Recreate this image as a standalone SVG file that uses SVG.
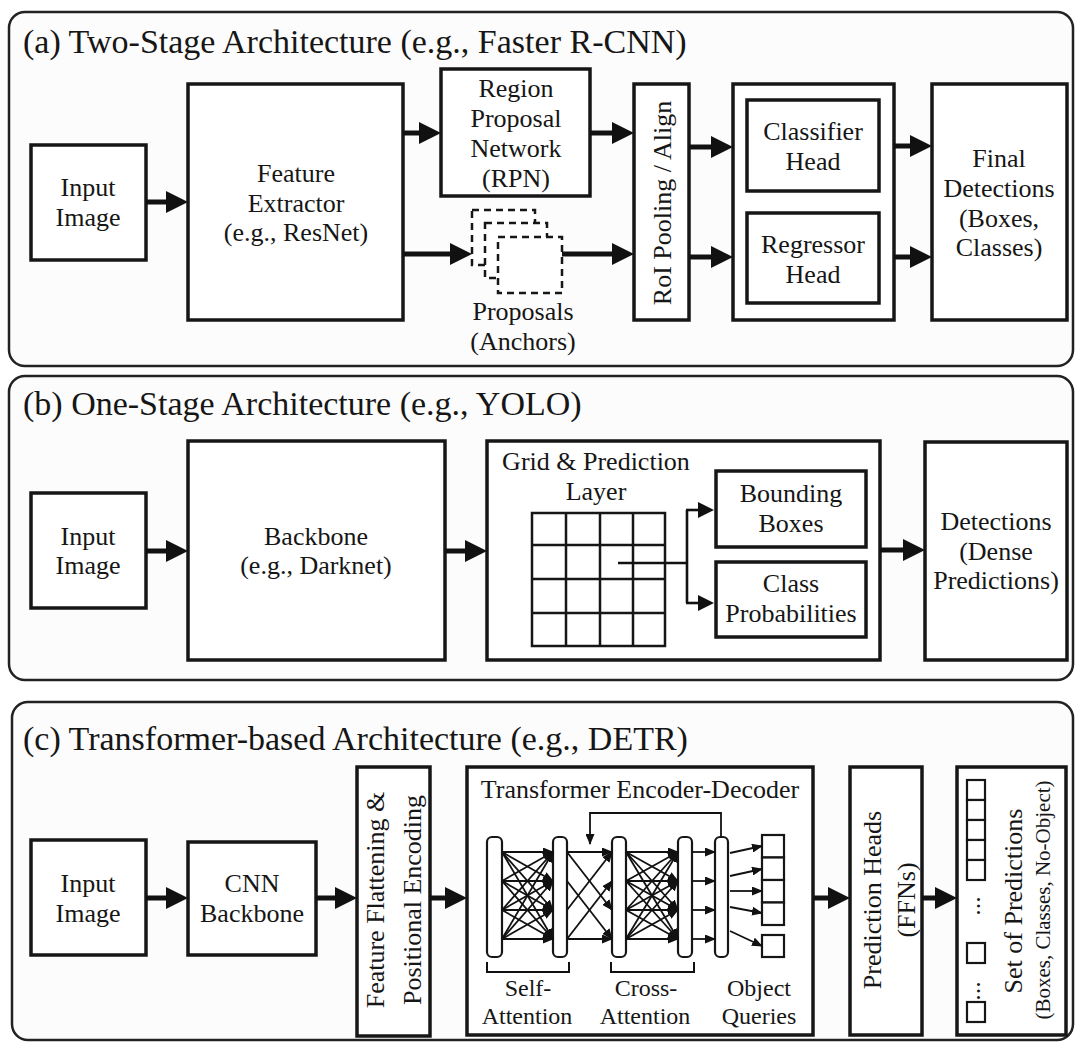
<svg xmlns="http://www.w3.org/2000/svg" width="1078" height="1047" viewBox="0 0 1078 1047" font-family="'Liberation Serif', Tinos, 'Noto Serif', 'DejaVu Serif', serif">
<defs>
<style>
text{font-family:'Liberation Serif',Tinos,'Noto Serif','DejaVu Serif',serif;fill:#161616}
.t{font-size:34px}
.b{font-size:26px;text-anchor:middle}
.q{font-size:24px;text-anchor:middle}
.s{font-size:21px;text-anchor:middle}
.panel{fill:#fcfcfc;stroke:#222;stroke-width:2.5}
.box{fill:#fff;stroke:#161616;stroke-width:3.5}
.thin{fill:#fff;stroke:#161616;stroke-width:2.2}
.dash{fill:#fff;stroke:#161616;stroke-width:2.5;stroke-dasharray:7 5}
.grid{fill:none;stroke:#161616;stroke-width:2.5}
.ta{fill:none;stroke:#111;stroke-width:5;marker-end:url(#ah)}
.ma{fill:none;stroke:#111;stroke-width:2.6;marker-end:url(#am)}
.sa{fill:none;stroke:#111;stroke-width:1.8;marker-end:url(#as)}
.ln{fill:none;stroke:#111;stroke-width:2}
</style>
<marker id="ah" markerUnits="userSpaceOnUse" markerWidth="22" markerHeight="22" viewBox="0 0 22 22" refX="3" refY="11" orient="auto"><path d="M0,0 L22,11 L0,22 Z" fill="#111"/></marker>
<marker id="am" markerUnits="userSpaceOnUse" markerWidth="16" markerHeight="16" viewBox="0 0 16 16" refX="2" refY="8" orient="auto"><path d="M0,0 L16,8 L0,16 Z" fill="#111"/></marker>
<marker id="as" markerUnits="userSpaceOnUse" markerWidth="11" markerHeight="9" viewBox="0 0 11 9" refX="10" refY="4.5" orient="auto"><path d="M0,0 L11,4.5 L0,9 Z" fill="#111"/></marker>
</defs>
<rect width="1078" height="1047" fill="#fff"/>

<g id="panel-a">
<rect class="panel" x="9" y="12" width="1064" height="354" rx="16"/>
<text class="t" x="23" y="53">(a) Two-Stage Architecture (e.g., Faster R-CNN)</text>
</g>
<g id="panel-b">
<rect class="panel" x="9" y="376" width="1064" height="304" rx="16"/>
<text class="t" x="23" y="415">(b) One-Stage Architecture (e.g., YOLO)</text>
</g>
<g id="panel-c">
<rect class="panel" x="12" y="702" width="1061" height="338" rx="16"/>
<text class="t" x="23" y="750">(c) Transformer-based Architecture (e.g., DETR)</text>
</g>

<!-- Panel a nodes -->
<g id="a-input"><rect class="box" x="31" y="145" width="115" height="115"/>
<text class="b" x="88" y="196">Input</text><text class="b" x="88" y="226">Image</text></g>
<g id="a-feature"><rect class="box" x="188" y="84" width="215" height="236"/>
<text class="b" x="296" y="182">Feature</text><text class="b" x="296" y="212">Extractor</text><text class="b" x="296" y="241">(e.g., ResNet)</text></g>
<g id="a-rpn"><rect class="box" x="441" y="69" width="149" height="127"/>
<text class="b" x="516" y="97">Region</text><text class="b" x="516" y="127">Proposal</text><text class="b" x="516" y="157">Network</text><text class="b" x="516" y="187">(RPN)</text></g>
<g id="a-proposals">
<rect class="dash" x="472" y="210" width="63" height="55"/>
<rect class="dash" x="485" y="223" width="62" height="55"/>
<rect class="dash" x="498" y="237" width="64" height="56"/>
<text class="b" x="523" y="320">Proposals</text><text class="b" x="523" y="350">(Anchors)</text></g>
<g id="a-roi"><rect class="box" x="634" y="84" width="55" height="236"/>
<text class="b" transform="translate(662,203) rotate(-90)" x="0" y="9">RoI Pooling / Align</text></g>
<g id="a-heads"><rect class="box" x="733" y="84" width="161" height="236"/></g>
<g id="a-classifier"><rect class="box" x="747" y="100" width="132" height="91"/>
<text class="b" x="813" y="140">Classifier</text><text class="b" x="813" y="170">Head</text></g>
<g id="a-regressor"><rect class="box" x="747" y="213" width="132" height="90"/>
<text class="b" x="813" y="253">Regressor</text><text class="b" x="813" y="283">Head</text></g>
<g id="a-final"><rect class="box" x="932" y="84" width="135" height="236"/>
<text class="b" x="999" y="167">Final</text><text class="b" x="999" y="197">Detections</text><text class="b" x="999" y="227">(Boxes,</text><text class="b" x="999" y="256">Classes)</text></g>

<!-- Panel b nodes -->
<g id="b-input"><rect class="box" x="31" y="493" width="115" height="115"/>
<text class="b" x="88" y="545">Input</text><text class="b" x="88" y="574">Image</text></g>
<g id="b-backbone"><rect class="box" x="188" y="441" width="257" height="219"/>
<text class="b" x="316" y="545">Backbone</text><text class="b" x="316" y="574">(e.g., Darknet)</text></g>
<g id="b-grid"><rect class="box" x="487" y="441" width="393" height="219"/>
<text class="b" x="596" y="470">Grid &amp; Prediction</text><text class="b" x="596" y="500">Layer</text>
<rect class="grid" x="532" y="513" width="133" height="133"/>
<path class="grid" d="M566,513 V646 M600,513 V646 M633,513 V646 M532,545 H665 M532,579 H665 M532,613 H665"/></g>
<g id="b-bbox"><rect class="box" x="716" y="471" width="150" height="76"/>
<text class="b" x="791" y="502">Bounding</text><text class="b" x="791" y="532">Boxes</text></g>
<g id="b-class"><rect class="box" x="716" y="562" width="150" height="75"/>
<text class="b" x="791" y="592">Class</text><text class="b" x="791" y="622">Probabilities</text></g>
<g id="b-detections"><rect class="box" x="925" y="442" width="142" height="218"/>
<text class="b" x="996" y="530">Detections</text><text class="b" x="996" y="560">(Dense</text><text class="b" x="996" y="589">Predictions)</text></g>

<!-- Panel c nodes -->
<g id="c-input"><rect class="box" x="31" y="840" width="115" height="115"/>
<text class="b" x="88" y="892">Input</text><text class="b" x="88" y="922">Image</text></g>
<g id="c-cnn"><rect class="box" x="188" y="842" width="128" height="113"/>
<text class="b" x="252" y="892">CNN</text><text class="b" x="252" y="922">Backbone</text></g>
<g id="c-flatten"><rect class="box" x="357" y="767" width="73" height="269"/>
<text class="b" transform="translate(375,900) rotate(-90)" x="0" y="9">Feature Flattening &amp;</text>
<text class="b" transform="translate(412,900) rotate(-90)" x="0" y="9">Positional Encoding</text></g>
<g id="c-transformer"><rect class="box" x="467" y="767" width="346" height="268"/>
<text class="b" x="640" y="798">Transformer Encoder-Decoder</text>
<rect class="thin" x="487" y="837" width="15" height="120" rx="5"/>
<rect class="thin" x="553" y="837" width="14" height="120" rx="5"/>
<rect class="thin" x="612" y="837" width="14" height="120" rx="5"/>
<rect class="thin" x="678" y="837" width="14" height="120" rx="5"/>
<rect class="thin" x="715" y="837" width="13" height="120" rx="5"/>
<rect class="thin" x="762" y="835" width="22" height="22.5"/>
<rect class="thin" x="762" y="857.5" width="22" height="22.5"/>
<rect class="thin" x="762" y="880" width="22" height="22.5"/>
<rect class="thin" x="762" y="902.5" width="22" height="22.5"/>
<rect class="thin" x="762" y="935" width="22" height="22"/>
<path class="ln" d="M487,962 V972 H569 V962 M611,962 V972 H694 V962"/>
<text class="q" x="528" y="996">Self-</text><text class="q" x="527" y="1024">Attention</text>
<text class="q" x="646" y="996">Cross-</text><text class="q" x="645" y="1024">Attention</text>
<text class="q" x="759" y="996">Object</text><text class="q" x="759" y="1024">Queries</text></g>
<g id="c-heads"><rect class="box" x="850" y="767" width="72" height="268"/>
<text class="b" transform="translate(872,900) rotate(-90)" x="0" y="9">Prediction Heads</text>
<text class="b" transform="translate(906,900) rotate(-90)" x="0" y="9">(FFNs)</text></g>
<g id="c-set"><rect class="box" x="957" y="767" width="109" height="268"/>
<rect class="thin" x="967" y="780" width="18" height="20"/>
<rect class="thin" x="967" y="800" width="18" height="20"/>
<rect class="thin" x="967" y="820" width="18" height="20"/>
<rect class="thin" x="967" y="840" width="18" height="20"/>
<rect class="thin" x="967" y="860" width="18" height="20"/>
<text class="b" transform="translate(976,906) rotate(-90)" x="0" y="4">...</text>
<rect class="thin" x="967" y="943" width="18" height="20"/>
<text class="b" transform="translate(976,991) rotate(-90)" x="0" y="4">...</text>
<rect class="thin" x="967" y="1002" width="18" height="20"/>
<text class="b" transform="translate(1013,901) rotate(-90)" x="0" y="9">Set of Predictions</text>
<text class="s" transform="translate(1043,900) rotate(-90)" x="0" y="7">(Boxes, Classes, No-Object)</text></g>

<g id="connectors">
<line class="ta" x1="146" y1="202" x2="169" y2="202"/>
<line class="ta" x1="403" y1="133" x2="422" y2="133"/>
<line class="ta" x1="403" y1="254" x2="453" y2="254"/>
<line class="ta" x1="590" y1="133" x2="615" y2="133"/>
<line class="ta" x1="562" y1="254" x2="615" y2="254"/>
<line class="ta" x1="689" y1="147" x2="714" y2="147"/>
<line class="ta" x1="689" y1="257" x2="714" y2="257"/>
<line class="ta" x1="894" y1="146" x2="913" y2="146"/>
<line class="ta" x1="894" y1="257" x2="913" y2="257"/>
<line class="ta" x1="146" y1="551" x2="169" y2="551"/>
<line class="ta" x1="445" y1="551" x2="468" y2="551"/>
<line class="ta" x1="880" y1="550" x2="906" y2="550"/>
<path class="ln" d="M618,563 H687 M687,510 V603" style="stroke-width:2.6"/>
<line class="ma" x1="686" y1="510" x2="700" y2="510"/>
<line class="ma" x1="686" y1="603" x2="700" y2="603"/>
<line class="ta" x1="146" y1="898" x2="169" y2="898"/>
<line class="ta" x1="316" y1="898" x2="338" y2="898"/>
<line class="ta" x1="430" y1="898" x2="448" y2="898"/>
<line class="ta" x1="813" y1="898" x2="831" y2="898"/>
<line class="ta" x1="922" y1="898" x2="938" y2="898"/>
<path class="sa" d="M502,852 L553,852"/><path class="sa" d="M502,852 L553,881"/><path class="sa" d="M502,852 L553,910"/><path class="sa" d="M502,852 L553,939"/>
<path class="sa" d="M502,881 L553,852"/><path class="sa" d="M502,881 L553,881"/><path class="sa" d="M502,881 L553,910"/><path class="sa" d="M502,881 L553,939"/>
<path class="sa" d="M502,910 L553,852"/><path class="sa" d="M502,910 L553,881"/><path class="sa" d="M502,910 L553,910"/><path class="sa" d="M502,910 L553,939"/>
<path class="sa" d="M502,939 L553,852"/><path class="sa" d="M502,939 L553,881"/><path class="sa" d="M502,939 L553,910"/><path class="sa" d="M502,939 L553,939"/>
<path class="sa" d="M567,852 L612,852"/><path class="sa" d="M567,939 L612,939"/>
<path class="sa" d="M567,852 L612,910"/><path class="sa" d="M567,910 L612,852"/>
<path class="sa" d="M567,881 L612,939"/><path class="sa" d="M567,939 L612,881"/>
<path class="sa" d="M626,852 L678,852"/><path class="sa" d="M626,852 L678,881"/><path class="sa" d="M626,852 L678,910"/><path class="sa" d="M626,852 L678,939"/>
<path class="sa" d="M626,881 L678,852"/><path class="sa" d="M626,881 L678,881"/><path class="sa" d="M626,881 L678,910"/><path class="sa" d="M626,881 L678,939"/>
<path class="sa" d="M626,910 L678,852"/><path class="sa" d="M626,910 L678,881"/><path class="sa" d="M626,910 L678,910"/><path class="sa" d="M626,910 L678,939"/>
<path class="sa" d="M626,939 L678,852"/><path class="sa" d="M626,939 L678,881"/><path class="sa" d="M626,939 L678,910"/><path class="sa" d="M626,939 L678,939"/>
<path class="sa" d="M692,852 L715,852"/><path class="sa" d="M692,881 L715,881"/><path class="sa" d="M692,910 L715,910"/><path class="sa" d="M692,939 L715,939"/>
<path class="sa" d="M730,853 L762,846"/><path class="sa" d="M730,876 L762,869"/><path class="sa" d="M730,891 L762,891"/><path class="sa" d="M730,907 L762,913"/><path class="sa" d="M730,931 L762,946"/>
<path class="sa" d="M721,837 V813 H590 V844"/>
</g>
</svg>
